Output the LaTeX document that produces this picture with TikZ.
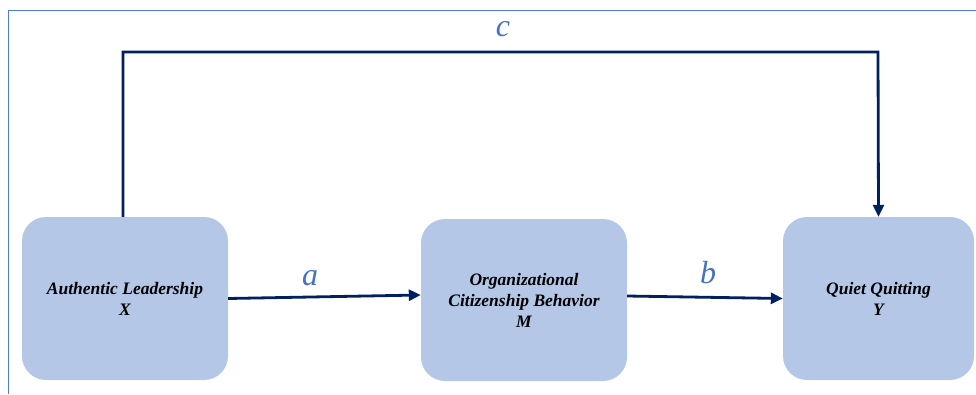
\documentclass[tikz,border=0pt]{standalone}
\usepackage{fontspec}
\setmainfont{Liberation Serif}
\usetikzlibrary{arrows.meta}
\definecolor{boxfill}{HTML}{B4C7E7}
\definecolor{navy}{HTML}{002060}
\definecolor{lblue}{HTML}{4472C4}
\definecolor{frameblue}{HTML}{4A7EDC}
\tikzset{
  var/.style={fill=boxfill, draw=none, rounded corners=24pt, align=center,
    font=\fontsize{17.5}{21}\selectfont\bfseries\itshape, text=black, inner sep=0pt},
  path/.style={draw=navy, line width=2.8pt, -{Triangle[length=12pt,width=11pt]}},
  coef/.style={text=lblue, font=\fontsize{32}{32}\selectfont\itshape},
}
\begin{document}
\begin{tikzpicture}[x=1pt,y=-1pt]
\useasboundingbox (0,0) rectangle (976,394);
\draw[frameblue, line width=1pt] (8,394) -- (8,10) -- (976,10);
\node[var, minimum width=206pt, minimum height=163pt] (X) at (125,298.5) {Authentic Leadership\\X};
\node[var, minimum width=206pt, minimum height=162pt] (M) at (524,300) {Organizational\\Citizenship Behavior\\M};
\node[var, minimum width=191pt, minimum height=163pt] (Y) at (878.5,298.5) {Quiet Quitting\\Y};
\draw[path] (X.east) -- ([yshift=5pt]M.west);
\draw[path] ([yshift=4pt]M.east) -- (Y.west);
\coordinate (c1) at (123,52);
\coordinate (c2) at (878,52);
\draw[path] (X.north -| c1) -- (c1) -- (c2) -- (Y.north);
\node[coef] (la) at (310,278) {a};
\node[coef] (lb) at (708,273) {b};
\node[coef] (lc) at (503,29) {c};
\end{tikzpicture}
\end{document}
